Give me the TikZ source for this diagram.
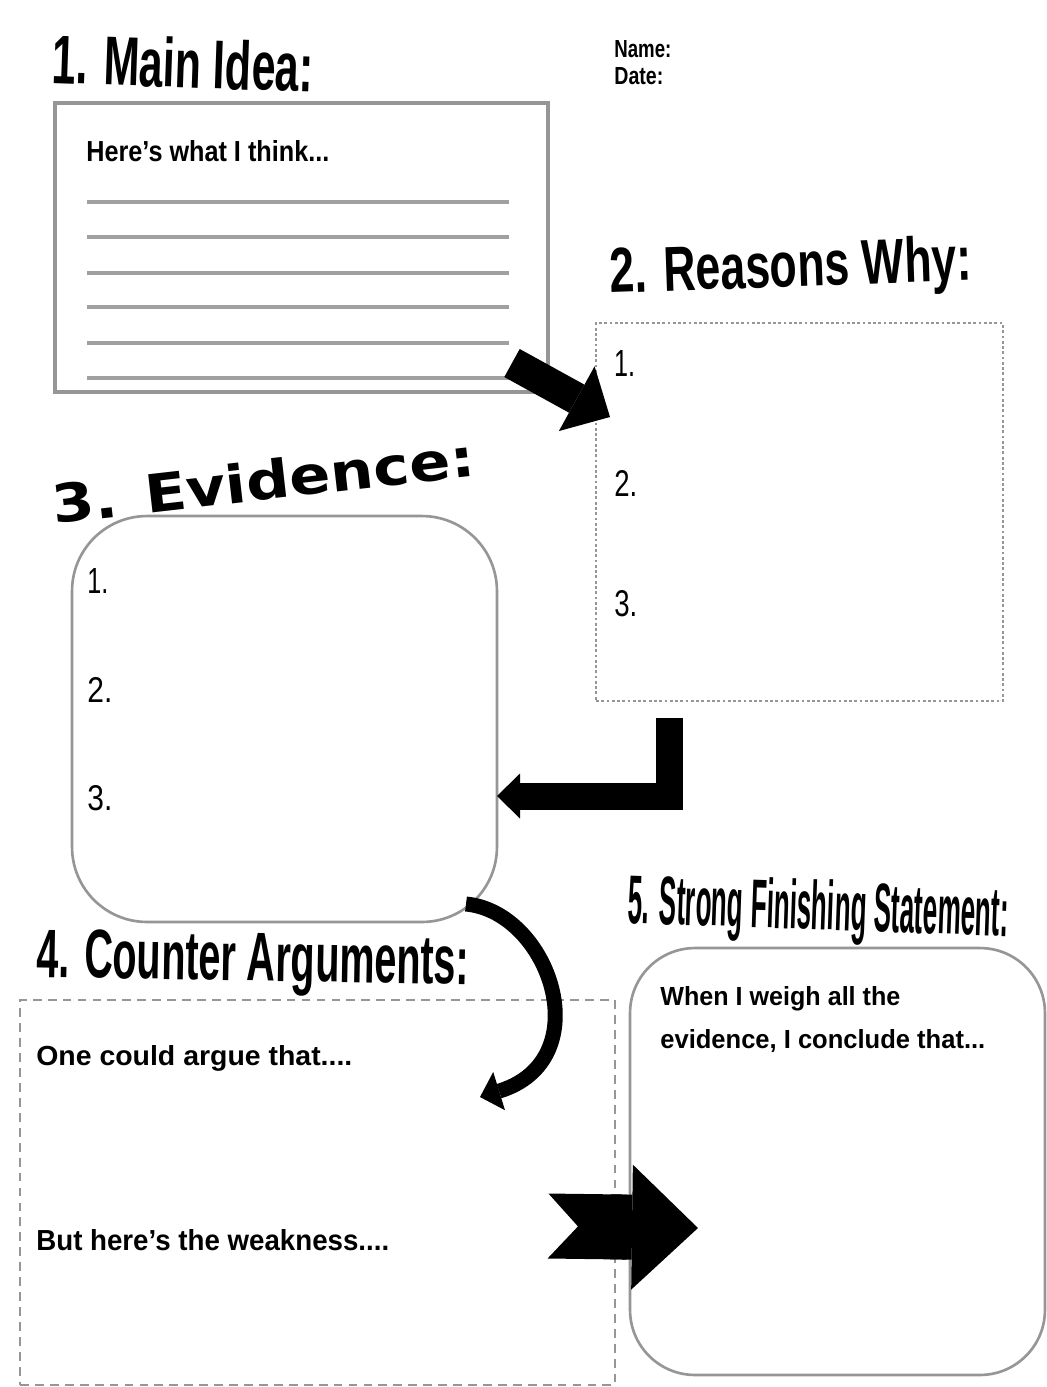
\documentclass[tikz,border=0pt]{standalone}
\usepackage{fontspec}
\setmainfont{Liberation Sans}
\newfontfamily\widefont{DejaVu Sans}
\usepackage{graphicx}
\usetikzlibrary{arrows.meta, positioning}
\definecolor{boxgray}{RGB}{150, 150, 150}
\definecolor{rulegray}{RGB}{160, 160, 160}
\tikzset{
  framebox/.style={draw=boxgray, line width=1.8pt, inner sep=0pt, outer sep=0pt},
  dotbox/.style={framebox, line width=1.6pt, dash pattern=on 1.6pt off 1.4pt},
  dashbox/.style={framebox, line width=1.2pt, dash pattern=on 5pt off 3.5pt},
  roundbox/.style={framebox, line width=1.5pt, rounded corners=#1},
  heading/.style={inner sep=0pt, anchor=base west, font=\bfseries},
  prompt/.style={inner sep=0pt, anchor=base west, font=\bfseries},
  numlabel/.style={inner sep=0pt, anchor=base west},
  writeline/.style={draw=rulegray, line width=1.8pt},
  blockarrow/.style={draw=black, line join=miter},
}
\begin{document}
\begin{tikzpicture}[x=0.02cm, y=-0.02cm]
  \useasboundingbox (0,0) rectangle (1047,1387);
  \fill[white] (0,0) rectangle (1047,1387);

  \node[framebox, minimum width=9.86cm, minimum height=5.78cm] (idea) at (301.5,247.5) {};
  \node[dotbox, minimum width=8.14cm, minimum height=7.56cm] (reasons) at (799.5,512) {};
  \node[roundbox=1.5cm, minimum width=8.5cm, minimum height=8.12cm] (evidence) at (284.5,719) {};
  \node[dashbox, minimum width=11.9cm, minimum height=7.7cm] (counter) at (317.5,1192.5) {};
  \node[roundbox=1.3cm, minimum width=8.3cm, minimum height=8.54cm] (finish) at (837.5,1161.5) {};

  \node[heading, rotate=-2] (t1) at (51,83) {\resizebox{5.24cm}{1.0cm}{1. Main Idea:}};
  \node[prompt] (name) at (614,57) {\resizebox{1.14cm}{0.34cm}{Name:}};
  \node[prompt] (date) at (614,84) {\resizebox{0.98cm}{0.34cm}{Date:}};
  \node[prompt] (think) at (86,161) {\resizebox{4.86cm}{0.42cm}{Here's what I think...}};
  \foreach \y in {202,237,273,307,343,378}
    \draw[writeline] (87,\y) -- (509,\y);

  \node[heading, rotate=2] (t2) at (610,293) {\resizebox{7.24cm}{0.92cm}{2. Reasons Why:}};
  \node[numlabel] (r1) at (614,376) {\resizebox{0.42cm}{0.52cm}{1.}};
  \node[numlabel] (r2) at (614,496) {\resizebox{0.46cm}{0.52cm}{2.}};
  \node[numlabel] (r3) at (614,616) {\resizebox{0.46cm}{0.52cm}{3.}};

  \node[heading, rotate=6.5] (t3) at (54,524) {\resizebox{8.5cm}{0.8cm}{\widefont\bfseries 3. Evidence:}};
  \node[numlabel] (e1) at (87,593) {\resizebox{0.42cm}{0.5cm}{1.}};
  \node[numlabel] (e2) at (87,702) {\resizebox{0.5cm}{0.5cm}{2.}};
  \node[numlabel] (e3) at (87,810) {\resizebox{0.5cm}{0.5cm}{3.}};

  \node[heading, rotate=-1] (t4) at (36,977) {\resizebox{8.66cm}{0.96cm}{4. Counter Arguments:}};
  \node[prompt] (argue) at (36,1065) {\resizebox{6.32cm}{0.4cm}{One could argue that....}};
  \node[prompt] (weak) at (36,1250) {\resizebox{7.06cm}{0.42cm}{But here's the weakness....}};

  \node[heading, rotate=-2] (t5) at (627,923) {\resizebox{7.62cm}{1.0cm}{5. Strong Finishing Statement:}};
  \node[prompt] (weigh) at (660,1005) {\resizebox{4.8cm}{0.38cm}{When I weigh all the}};
  \node[prompt] (conclude) at (660,1048) {\resizebox{6.5cm}{0.38cm}{evidence, I conclude that...}};

  \coordinate (a1s) at (512,363);
  \coordinate (a1e) at (610,417);
  \coordinate (a2s) at (669,718);
  \coordinate (a2e) at (497,796);
  \coordinate (a3s) at (466,904);
  \coordinate (a3e) at (480,1097);
  \coordinate (a5s) at (548,1226);
  \coordinate (a5e) at (698,1228);
  \draw[blockarrow, line width=0.64cm, -{Triangle[width=1.48cm, length=0.76cm, line width=0pt]}] (a1s) -- (a1e);
  \draw[blockarrow, line width=0.54cm, -{Triangle[width=0.9cm, length=0.46cm, line width=0pt]}] (a2s) |- (a2e);
  \draw[blockarrow, line width=0.3cm, -{Triangle[width=0.8cm, length=0.4cm, line width=0pt]}] (a3s) .. controls (550,912) and (600,1060) .. (a3e);
  \draw[blockarrow, line width=1.3cm, {Triangle Cap[reversed, length=0.6cm]}-{Triangle[width=2.5cm, length=1.32cm, line width=0pt]}] (a5s) -- (a5e);
\end{tikzpicture}
\end{document}
